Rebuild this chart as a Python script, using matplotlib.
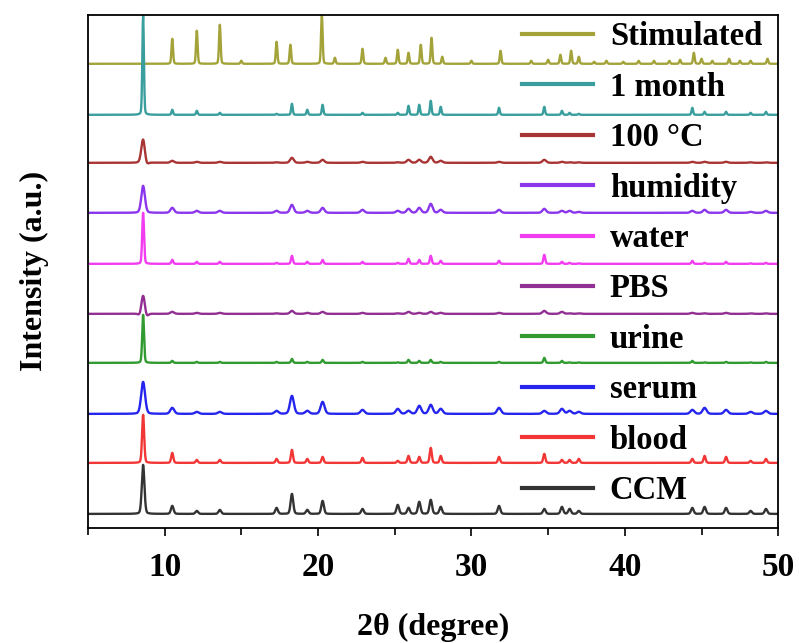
import matplotlib.pyplot as plt
import numpy as np

plt.rcParams['font.family'] = ['Liberation Serif', 'DejaVu Serif']
plt.rcParams['font.weight'] = 'bold'

labels = ['Stimulated', '1 month', '100 °C', 'humidity', 'water',
          'PBS', 'urine', 'serum', 'blood', 'CCM']
colors = ['#a3a33a', '#3a9e9e', '#a83434', '#8b35ec', '#f23cf0',
          '#922f92', '#319a31', '#2525ee', '#f23535', '#333333']
offsets = [464, 413, 365, 315, 264, 214, 165, 114, 65, 14]

# simulated pattern (reflection positions / intensities)
sim_pos = [10.5, 12.1, 13.6, 15.0, 17.3, 18.2, 20.25, 21.1, 22.9, 24.4,
           25.2, 25.9, 26.7, 27.4, 28.1, 30.0, 31.9, 33.9, 35.0, 35.8,
           36.5, 37.0, 38.0, 38.8, 39.9, 40.9, 41.9, 42.9, 43.6, 44.5,
           45.0, 45.7, 46.8, 47.5, 48.2, 49.3]
sim_int = [25, 33, 39, 3, 22, 19, 49, 6, 15, 6,
           14, 11, 19, 26, 7, 3, 13, 3, 4, 9,
           13, 7, 2, 3, 2, 3, 3, 3, 4, 11,
           5, 3, 5, 3, 3, 5]

# measured samples share the same reflections
exp_pos = [8.6, 10.5, 12.1, 13.6, 17.3, 18.3, 19.3, 20.3, 22.9, 25.2,
           25.9, 26.6, 27.35, 28.0, 31.8, 34.75, 35.9, 36.4, 37.0, 44.4,
           45.2, 46.6, 48.2, 49.2]
month_int = [99, 5, 4, 2, 1, 11, 5, 10, 2, 2,
             9, 10, 14, 8, 7, 8, 4, 2, 1, 7,
             3, 3, 2, 3]
heat_int = [24, 2, 1, 1, 0.5, 5, 1, 3, 1, 0.5,
            3, 3, 6, 2, 1, 3, 1, 0.5, 0.5, 1,
            1, 1, 0.5, 0.5]
humid_int = [27, 5, 2, 2, 2, 8, 2, 5, 3, 2,
             4, 5, 9, 3, 3, 4, 2, 2, 1, 2,
             3, 3, 1, 2]
water_int = [51, 4, 2, 2, 1, 8, 2, 4, 2, 1,
             5, 4, 8, 3, 3, 9, 2, 1, 0.5, 3,
             1, 2, 0.5, 1]
pbs_int = [20, 2, 1, 1, 0.5, 3, 1, 2, 1, 0.5,
           2, 1, 2, 1, 1, 3, 2, 0.5, 0.5, 1,
           0.5, 1, 0.5, 0.5]
urine_int = [48, 2, 1, 1, 1, 4, 1, 3, 1, 0.5,
             3, 2, 3, 1, 1, 5, 2, 0.5, 0.5, 2,
             0.5, 1, 0.5, 1]
serum_int = [32, 6, 2, 2, 3, 18, 3, 12, 4, 5,
             3, 8, 9, 5, 6, 3, 5, 3, 2, 4,
             6, 4, 2, 3]
blood_int = [48, 10, 3, 3, 4, 13, 4, 6, 5, 2,
             7, 6, 15, 7, 6, 9, 3, 3, 4, 4,
             7, 6, 2, 4]
ccm_int = [49, 8, 3, 4, 6, 20, 4, 13, 5, 9,
           6, 12, 14, 7, 8, 5, 7, 5, 3, 6,
           7, 6, 3, 5]

# small negative artefacts next to the main reflection
heat_dip = ([8.8], [-3])
pbs_dip = ([8.42, 8.8], [-3, -4])

fwhm = [0.12, 0.12, 0.28, 0.28, 0.14, 0.28, 0.14, 0.30, 0.16, 0.20]


def profile(x, pos, inten, w):
    y = np.zeros_like(x)
    for p, h in zip(pos, inten):
        g = np.exp(-4 * np.log(2) * ((x - p) / w) ** 2)
        l = 1 / (1 + 4 * ((x - p) / w) ** 2)
        y += h * (0.8 * g + 0.2 * l)
    return y


x = np.linspace(5, 50, 4501)
patterns = [
    (sim_pos, sim_int),
    (exp_pos, month_int),
    (exp_pos + heat_dip[0], heat_int + heat_dip[1]),
    (exp_pos, humid_int),
    (exp_pos, water_int),
    (exp_pos + pbs_dip[0], pbs_int + pbs_dip[1]),
    (exp_pos, urine_int),
    (exp_pos, serum_int),
    (exp_pos, blood_int),
    (exp_pos, ccm_int),
]

fig = plt.figure(figsize=(7.99, 6.43), dpi=100)
ax = fig.add_axes([0.110, 0.179, 0.864, 0.798])

handles = []
for (pos, inten), w, off, c, lab in zip(patterns, fwhm, offsets, colors, labels):
    y = off + profile(x, pos, inten, w)
    ax.plot(x, y, color=c, lw=1.7)
    h, = ax.plot([], [], color=c, lw=3, label=lab)
    handles.append(h)

ax.set_xlim(5, 50)
ax.set_ylim(0, 513)
ax.set_xticks([10, 20, 30, 40, 50])
ax.set_xticks(np.arange(5, 50, 10), minor=True)
ax.set_yticks([])
ax.tick_params(axis='x', which='both', direction='out', width=1.2,
               labelsize=24, pad=11)
ax.tick_params(axis='x', which='major', length=6)
ax.tick_params(axis='x', which='minor', length=5)
for s in ax.spines.values():
    s.set_linewidth(1.3)

ax.set_xlabel('2θ (degree)', fontsize=23, fontweight='bold', labelpad=22)
ax.set_ylabel('Intensity (a.u.)', fontsize=23, fontweight='bold', labelpad=28)

ax.legend(handles=handles, loc='upper left', bbox_to_anchor=(0.619, 1.0),
          frameon=False, fontsize=23.5, handlelength=2.18, handletextpad=0.52,
          labelspacing=0.595, borderaxespad=0, borderpad=0.2)

plt.savefig('out.png', dpi=100)
